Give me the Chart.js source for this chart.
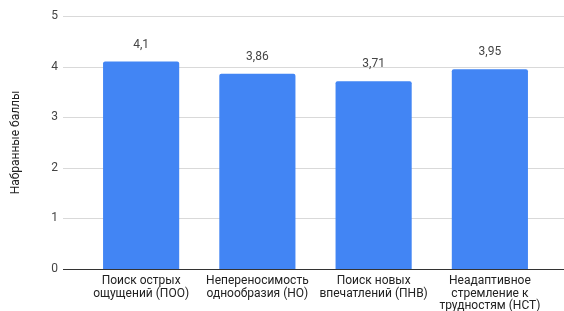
<!DOCTYPE html>
<html>
<head>
<meta charset="utf-8">
<script src="https://cdn.jsdelivr.net/npm/chart.js@4"></script>
<style>
  html, body { margin: 0; padding: 0; background: #fff; }
  canvas { display: block; }
</style>
</head>
<body>
<canvas id="chart" width="564" height="311"></canvas>
<script>
// данные с картинки
const categories = [
    ['Поиск острых', 'ощущений (ПОО)'],
    ['Непереносимость', 'однообразия (НО)'],
    ['Поиск новых', 'впечатлений (ПНВ)'],
    ['Неадаптивное', 'стремление к', 'трудностям (НСТ)']
];
const scores = [4.1, 3.86, 3.71, 3.95];
const yTicks = [0, 1, 2, 3, 4, 5];
const yTitle = 'Набранные баллы';

const FONT = 'Roboto, "Liberation Sans", Arial, sans-serif';

// горизонтальная сетка шире, чем область столбцов
const gridLines = {
    id: 'gridLines',
    beforeDatasetsDraw(chart) {
        const ctx = chart.ctx;
        const y = chart.scales.y;
        ctx.save();
        ctx.lineWidth = 1;
        yTicks.forEach(v => {
            const py = Math.round(y.getPixelForValue(v)) + 0.5;
            ctx.strokeStyle = v === 0 ? '#333333' : '#d9d9d9';
            ctx.beginPath();
            ctx.moveTo(63, py);
            ctx.lineTo(chart.width, py);
            ctx.stroke();
        });
        ctx.restore();
    }
};

// подписи значений над столбцами
const valueLabels = {
    id: 'valueLabels',
    afterDatasetsDraw(chart) {
        const ctx = chart.ctx;
        const meta = chart.getDatasetMeta(0);
        ctx.save();
        ctx.font = '12px ' + FONT;
        ctx.fillStyle = '#444444';
        ctx.textAlign = 'center';
        ctx.textBaseline = 'middle';
        meta.data.forEach((bar, i) => {
            const txt = String(scores[i]).replace('.', ',');
            ctx.fillText(txt, bar.x, bar.y - 17);
        });
        ctx.restore();
    }
};

// убираем автоматические отступы шкал, чтобы область графика была как на картинке
function noScalePadding(scale) {
    scale.paddingTop = 0;
    scale.paddingBottom = 0;
    scale.paddingLeft = 0;
    scale.paddingRight = 0;
}

new Chart(document.getElementById('chart').getContext('2d'), {
    type: 'bar',
    data: {
        labels: categories,
        datasets: [{
            data: scores,
            backgroundColor: '#4285f4',
            borderRadius: { topLeft: 2, topRight: 2 },
            borderSkipped: 'bottom',
            categoryPercentage: 1,
            barPercentage: 0.655
        }]
    },
    options: {
        responsive: false,
        animation: false,
        layout: { padding: { top: 16, right: 16, bottom: 0, left: 0 } },
        plugins: {
            legend: { display: false },
            tooltip: { enabled: false }
        },
        scales: {
            x: {
                afterFit(scale) { scale.height = 42; noScalePadding(scale); },
                grid: { display: false },
                border: { display: false },
                ticks: {
                    color: '#222222',
                    font: { family: FONT, size: 12, lineHeight: 1.03 },
                    padding: -2,
                    maxRotation: 0,
                    autoSkip: false
                }
            },
            y: {
                min: 0,
                max: 5,
                afterFit(scale) { scale.width = 83; noScalePadding(scale); },
                grid: { display: false },
                border: { display: false },
                ticks: {
                    stepSize: 1,
                    color: '#444444',
                    font: { family: FONT, size: 12 },
                    padding: 17
                },
                title: {
                    display: true,
                    text: yTitle,
                    color: '#222222',
                    font: { family: FONT, size: 12 },
                    padding: { top: 9, bottom: 0 }
                }
            }
        }
    },
    plugins: [gridLines, valueLabels]
});
</script>
</body>
</html>
